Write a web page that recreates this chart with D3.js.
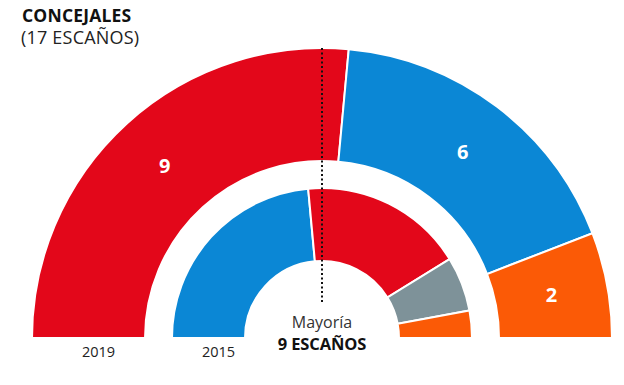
<!DOCTYPE html>
<html><head><meta charset="utf-8">
<script src="https://cdn.jsdelivr.net/npm/d3@7"></script>
<style>body{margin:0;background:#fff}svg{display:block}text{font-family:"Open Sans",sans-serif}</style>
</head><body>
<svg id="c" width="624" height="385"></svg>
<script>
const parties2019 = ["PSOE","PP","Cs"];
const seats2019 = [9,6,2];
const labels2019 = ["9","6","2"];
const parties2015 = ["PP","PSOE","Otros","Cs"];
const seats2015 = [8,6,2,1];
const colors = {PSOE:"#e3071a", PP:"#0b87d5", Cs:"#fb5a06", Otros:"#7e9299"};
const yearLabels = ["2019","2015"];
const totalSeats = 17, majority = 9;

const svg = d3.select("#c");
const cx = 322, cy = 338;
const rings = [
  {parties: parties2019, seats: seats2019, labels: labels2019, r0: 177, r1: 290, year: yearLabels[0]},
  {parties: parties2015, seats: seats2015, labels: null, r0: 77, r1: 150, year: yearLabels[1]}
];
const pie = d3.pie().sort(null).startAngle(-Math.PI/2).endAngle(Math.PI/2);
const g = svg.append("g").attr("transform", `translate(${cx},${cy})`);

rings.forEach(ring => {
  const arc = d3.arc().innerRadius(ring.r0).outerRadius(ring.r1);
  const arcs = pie(ring.seats);
  g.append("g").selectAll("path").data(arcs).join("path")
    .attr("d", arc)
    .attr("fill", (d,i) => colors[ring.parties[i]])
    .attr("stroke", "#fff").attr("stroke-width", 2);
  if (ring.labels) {
    g.append("g").selectAll("text").data(arcs).join("text")
      .attr("transform", d => `translate(${arc.centroid(d)})`)
      .attr("text-anchor","middle").attr("dy","0.36em")
      .attr("fill","#fff").attr("font-weight","bold").attr("font-size",20)
      .text((d,i) => ring.labels[i]);
  }
  g.append("text")
    .attr("x", -(ring.r0 + ring.r1)/2 + 10).attr("y", 19)
    .attr("text-anchor","middle").attr("font-size",14.5).attr("fill","#222")
    .text(ring.year);
});

// majority line
g.append("line").attr("x1",0).attr("x2",0).attr("y1",-290).attr("y2",-34)
  .attr("stroke","#111").attr("stroke-width",2).attr("stroke-dasharray","2,2.5");

g.append("text").attr("x",0).attr("y",-10).attr("text-anchor","middle")
  .attr("font-size",16).attr("fill","#333").text("Mayoría");
g.append("text").attr("x",0).attr("y",12).attr("text-anchor","middle")
  .attr("font-size",16.5).attr("font-weight","bold").attr("fill","#111").attr("letter-spacing","-0.1")
  .text(majority + " ESCAÑOS");

svg.append("text").attr("x",22).attr("y",22).attr("font-size",17.5).attr("font-weight","bold")
  .attr("fill","#111").attr("letter-spacing","0.2").text("CONCEJALES");
svg.append("text").attr("x",21).attr("y",44).attr("font-size",18)
  .attr("fill","#222").attr("letter-spacing","0.2").text("(" + totalSeats + " ESCAÑOS)");
</script>
</body></html>
